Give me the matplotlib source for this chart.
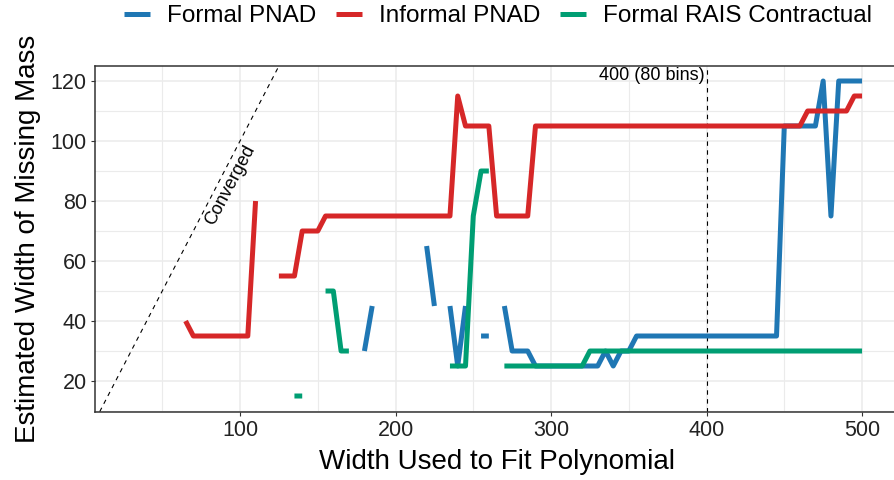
import matplotlib
matplotlib.use("Agg")
import matplotlib.pyplot as plt
from matplotlib.lines import Line2D
import numpy as np

plt.rcParams['font.family'] = ['Liberation Sans', 'DejaVu Sans']

nan = np.nan

# polynomial fit widths (steps of 5)
widths = list(range(65, 505, 5))

informal_pnad = [
    40, 35, 35, 35, 35, 35, 35, 35, 35, 80,          # 65-110
    nan, nan, 55, 55, 55, 70, 70, 70, 75, 75,        # 115-160
    75, 75, 75, 75, 75, 75, 75, 75, 75, 75,          # 165-210
    75, 75, 75, 75, 75, 115, 105, 105, 105, 105,     # 215-260
    75, 75, 75, 75, 75, 105, 105, 105, 105, 105,     # 265-310
    105, 105, 105, 105, 105, 105, 105, 105, 105, 105,  # 315-360
    105, 105, 105, 105, 105, 105, 105, 105, 105, 105,  # 365-410
    105, 105, 105, 105, 105, 105, 105, 105, 105, 105,  # 415-460
    110, 110, 110, 110, 110, 110, 115, 115,          # 465-500
]

formal_pnad = [
    nan, nan, nan, nan, nan, nan, nan, nan, nan, nan,  # 65-110
    nan, nan, nan, nan, nan, nan, nan, nan, nan, nan,  # 115-160
    nan, nan, nan, 30, 45, nan, nan, nan, nan, nan,    # 165-210
    nan, 65, 45, nan, 45, 25, 45, nan, 35, 35,         # 215-260
    nan, 45, 30, 30, 30, 25, 25, 25, 25, 25,           # 265-310
    25, 25, 25, 25, 30, 25, 30, 30, 35, 35,            # 315-360
    35, 35, 35, 35, 35, 35, 35, 35, 35, 35,            # 365-410
    35, 35, 35, 35, 35, 35, 35, 105, 105, 105,         # 415-460
    105, 105, 120, 75, 120, 120, 120, 120,             # 465-500
]

formal_rais = [
    nan, nan, nan, nan, nan, nan, nan, nan, nan, nan,  # 65-110
    nan, nan, nan, nan, 15, 15, nan, nan, 50, 50,      # 115-160
    30, 30, nan, nan, nan, nan, nan, nan, nan, nan,    # 165-210
    nan, nan, nan, nan, 25, 25, 25, 75, 90, 90,        # 215-260
    nan, 25, 25, 25, 25, 25, 25, 25, 25, 25,           # 265-310
    25, 25, 30, 30, 30, 30, 30, 30, 30, 30,            # 315-360
    30, 30, 30, 30, 30, 30, 30, 30, 30, 30,            # 365-410
    30, 30, 30, 30, 30, 30, 30, 30, 30, 30,            # 415-460
    30, 30, 30, 30, 30, 30, 30, 30,                    # 465-500
]

series_names = ["Formal PNAD", "Informal PNAD", "Formal RAIS Contractual"]
series_values = [formal_pnad, informal_pnad, formal_rais]
series_colors = ["#1F77B4", "#D62728", "#009E73"]

cutoff_width = 400
cutoff_label = "400 (80 bins)"

fig = plt.figure(figsize=(8.94, 4.8), dpi=100)
ax = fig.add_axes([95 / 894, 68.3 / 480, 805 / 894, 345.7 / 480])

for vals, col in zip(series_values, series_colors):
    ax.plot(widths, vals, color=col, lw=3.6, solid_capstyle='butt',
            solid_joinstyle='round', zorder=3)

# 45 degree line: estimated width equal to fitted width
ax.axline((0, 0), slope=1, color='black', lw=0.8, ls=(0, (4, 4)), zorder=2)
ax.text(93.6, 85.3, "Converged", rotation=62, rotation_mode='anchor',
        ha='center', va='center', fontsize=13)

ax.axvline(cutoff_width, color='black', lw=0.8, ls=(0, (4, 4)), zorder=2)
ax.text(cutoff_width - 1, 121.7, cutoff_label, ha='right', va='center',
        fontsize=13)

ax.set_xlim(6.75, 524.4)
ax.set_ylim(9.77, 125)
ax.set_xticks([100, 200, 300, 400, 500])
ax.set_xticks([50, 150, 250, 350, 450], minor=True)
ax.set_yticks([20, 40, 60, 80, 100, 120])
ax.set_yticks([10, 30, 50, 70, 90, 110], minor=True)
ax.grid(which='major', color='#ebebeb', lw=1.1, zorder=0)
ax.grid(which='minor', color='#ebebeb', lw=0.8, zorder=0)
ax.set_axisbelow(True)

ax.tick_params(which='major', direction='out', length=3, width=0.8,
               color='#333333', labelsize=15.5, labelcolor='#222222', pad=3)
ax.tick_params(which='minor', length=0)
for s in ax.spines.values():
    s.set_color('#333333')
    s.set_linewidth(1.1)

fig.text(497 / 894, 1 - 462 / 480, "Width Used to Fit Polynomial",
         ha='center', va='center', fontsize=20)
fig.text(28 / 894, 1 - 239 / 480, "Estimated Width of Missing Mass",
         ha='center', va='center', rotation=90, fontsize=20)

handles = [Line2D([], [], color=c, lw=3.6, solid_capstyle='butt')
           for c in series_colors]
fig.legend(handles, series_names, loc='center', ncol=3,
           bbox_to_anchor=(498 / 894, 1 - 16 / 480), frameon=False,
           fontsize=17.5, handlelength=1.07, handletextpad=0.7,
           columnspacing=0.82, borderaxespad=0, borderpad=0)

fig.savefig("out.png", dpi=100)
